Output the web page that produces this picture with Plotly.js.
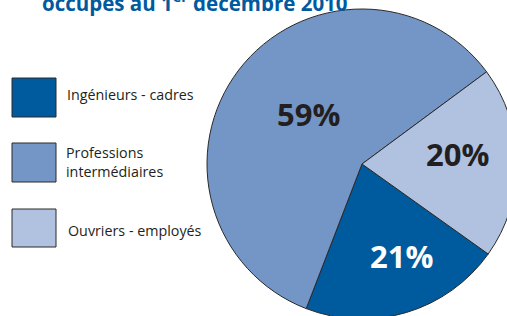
<!DOCTYPE html>
<html>
<head>
<meta charset="utf-8">
<script src="https://cdn.plot.ly/plotly-3.0.1.min.js"></script>
<style>
html,body{margin:0;padding:0;overflow:hidden;width:507px;height:316px;background:#fff;}
#chart{position:absolute;left:0;top:-20px;width:520px;height:350px;}
</style>
</head>
<body>
<div id="chart"></div>
<script>
const categories = ["Ingénieurs - cadres", "Professions intermédiaires", "Ouvriers - employés"];
const legendLabels = ["Ingénieurs - cadres", "Professions<br>intermédiaires", "Ouvriers - employés"];
const values = [21, 59, 20];
const colors = ["#005A9E", "#7396C6", "#B1C1E0"];
const textColors = ["#ffffff", "#231f20", "#231f20"];
const titleText = "occupés au 1<sup>er</sup> décembre 2010";

const W = 520, H = 350, OFF = 20;
const px = x => x / W;
const py = y => 1 - (y + OFF) / H;

const cx = 362, cy = 164, r = 155;
const rotation = 125.5;
const labelRadius = [0.65, 0.47, 0.62];
const labelAngleShift = [-6.5, 5, -5];
const labelYShift = -1;

const trace = {
  type: "pie",
  labels: categories,
  values: values,
  sort: false,
  direction: "clockwise",
  rotation: rotation,
  marker: {colors: colors, line: {color: "#2a2a2a", width: 1}},
  textinfo: "none",
  hoverinfo: "none",
  showlegend: false,
  domain: {x: [px(cx - r), px(cx + r)], y: [py(cy + r), py(cy - r)]}
};

const boxes = [[78, 117], [143, 182], [209, 247]];
const shapes = boxes.map((b, i) => ({
  type: "rect", xref: "paper", yref: "paper",
  x0: px(12), x1: px(56), y0: py(b[1]), y1: py(b[0]),
  fillcolor: colors[i], line: {color: "#2a2a2a", width: 1}
}));
const labelY = [94, 162, 230];
const labelX = [65, 64, 66];
const annotations = legendLabels.map((t, i) => ({
  text: t, xref: "paper", yref: "paper",
  x: px(labelX[i]), y: py(labelY[i]), xanchor: "left", yanchor: "middle", align: "left",
  showarrow: false,
  font: {family: "Open Sans, DejaVu Sans, sans-serif", size: 14.3, color: "#231f20"}
}));

// percentage labels placed around slice mid-angles computed from values
const total = values.reduce((a, b) => a + b, 0);
let acc = 0;
values.forEach((v, i) => {
  const mid = (rotation + (acc + v / 2) / total * 360 + labelAngleShift[i]) * Math.PI / 180;
  acc += v;
  const rr = r * labelRadius[i];
  const x = cx + rr * Math.sin(mid);
  const y = cy - rr * Math.cos(mid) + labelYShift;
  annotations.push({
    text: "<b>" + Math.round(v / total * 100) + "%</b>", xref: "paper", yref: "paper",
    x: px(x), y: py(y), xanchor: "center", yanchor: "middle", showarrow: false,
    font: {family: "Open Sans, DejaVu Sans, sans-serif", size: 31, color: textColors[i]}
  });
});

annotations.push({
  text: "<b>" + titleText + "</b>", xref: "paper", yref: "paper",
  x: px(40), y: py(2), xanchor: "left", yanchor: "middle", showarrow: false,
  font: {family: "Open Sans, DejaVu Sans, sans-serif", size: 20.5, color: "#005A9E"}
});

Plotly.newPlot("chart", [trace], {
  width: W, height: H,
  margin: {l: 0, r: 0, t: 0, b: 0},
  paper_bgcolor: "#ffffff",
  shapes: shapes,
  annotations: annotations
}, {staticPlot: true});
</script>
</body>
</html>
